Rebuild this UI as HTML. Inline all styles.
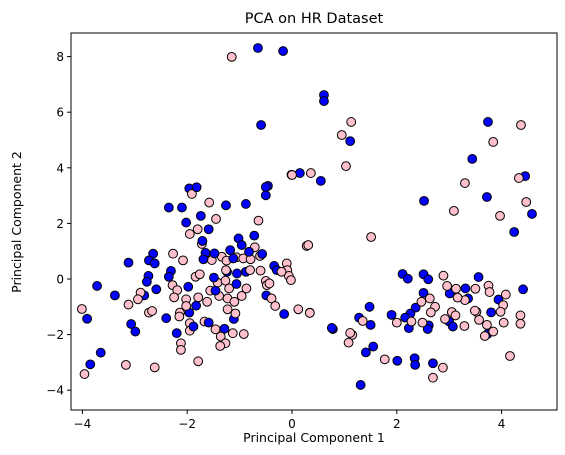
<!DOCTYPE html>
<html><head><meta charset="utf-8"><style>
html,body{margin:0;padding:0;background:#fff;}
svg{display:block;font-family:"DejaVu Sans","Liberation Sans",sans-serif;}
</style></head><body>
<svg id="chart" width="565" height="455"></svg>
<script>
const xTicks=[-4,-2,0,2,4];
const yTicks=[-4,-2,0,2,4,6,8];
const blueX=[-1.96,-1.82,-0.46,-0.50,-2.35,-2.10,-1.26,-0.88,-1.74,-2.02,-1.59,-1.71,-0.72,-1.02,-0.96,-2.65,-2.73,-2.62,-3.12,-1.65,-1.48,-1.18,-0.82,-1.12,-1.69,-0.57,-2.31,-2.35,-2.74,-2.77,-2.59,-3.72,-3.38,-2.82,-1.98,-1.49,-1.24,-1.05,-0.88,-1.06,-0.34,-0.29,-1.46,-1.83,-1.96,-0.15,-0.49,-2.40,-1.11,-3.07,-2.99,-2.20,-1.59,-1.29,-1.88,-3.91,-3.65,-3.85,
2.11,2.21,2.51,2.60,3.56,4.41,2.51,3.01,3.31,3.36,3.94,3.80,2.36,2.26,2.16,1.90,1.48,1.28,1.50,2.23,2.61,2.59,3.00,3.07,3.73,0.78,1.55,1.41,2.01,2.34,2.35,2.69,1.31,
-0.65,-0.17,0.61,0.61,-0.59,1.11,3.44,0.15,-0.50,0.55,3.72,3.74,4.45,4.58,4.24,2.52,0.76];
const blueY=[3.26,3.30,3.35,3.01,2.57,2.57,2.65,2.70,2.27,2.03,1.79,1.37,1.56,1.46,1.22,0.91,0.67,0.56,0.59,0.94,0.92,1.04,0.98,0.74,0.71,0.90,0.29,0.08,0.11,-0.10,-0.37,-0.25,-0.59,-0.59,-0.28,0.05,0.26,0.20,0.26,-0.18,0.47,0.32,-0.42,-0.96,-1.21,-1.26,-0.59,-1.41,-1.44,-1.62,-1.89,-1.95,-1.57,-1.79,-1.71,-1.43,-2.65,-3.07,
0.18,0.01,0.17,-0.01,0.07,-0.37,-0.50,-0.52,-0.34,-0.70,-0.74,-1.20,-1.03,-1.24,-1.39,-1.29,-1.00,-1.39,-1.65,-1.77,-1.67,-1.80,-1.53,-1.71,-1.98,-1.80,-2.43,-2.64,-2.94,-2.85,-3.09,-3.03,-3.81,
8.31,8.20,6.62,6.40,5.54,4.96,4.32,3.81,3.31,3.53,2.95,5.65,3.70,2.34,1.69,2.81,-1.76];
const pinkX=[-1.91,-1.58,-1.45,-0.64,-1.80,-1.95,-1.72,-2.27,-2.08,-1.34,-1.53,-1.25,-1.06,-0.93,-0.79,-0.61,-0.71,-0.10,-0.09,-0.06,-0.02,-0.60,-0.50,-0.48,-1.84,-1.76,-2.28,-2.19,-2.25,-2.02,-1.79,-1.62,-1.56,-1.42,-1.27,-1.20,-1.39,-1.23,-1.10,-0.96,-0.87,-2.89,-2.94,-3.12,-2.73,-2.67,-4.01,-2.14,-2.15,-1.95,-1.95,-1.67,-1.46,-1.36,-1.27,-1.37,-1.13,-0.92,-1.08,-1.23,-2.12,-2.12,-1.79,-3.17,-2.62,-3.96,-0.39,-0.32,0.12,0.34,0.28,-0.01,-0.43,-0.20,-0.80,-1.26,-2.02,
2.89,2.96,3.13,3.50,3.75,3.77,4.08,4.03,2.63,2.47,2.73,2.65,3.05,3.12,2.92,3.29,3.52,3.57,3.72,3.84,3.68,3.98,4.04,4.36,4.36,4.16,2.00,2.28,2.49,1.15,1.08,1.77,2.88,2.69,3.30,3.49,3.16,
-1.15,1.13,0.95,1.03,0.36,0.00,0.31,1.51,3.84,3.30,3.09,3.97,4.33,4.37,4.47,1.35,1.11,0.34];
const pinkY=[3.06,2.75,2.16,2.10,1.79,1.62,1.26,0.91,0.67,0.80,0.68,0.66,0.78,0.74,0.71,0.83,1.14,0.56,0.32,0.11,-0.04,0.30,-0.07,-0.22,0.08,0.17,-0.22,-0.40,-0.66,-0.73,-0.66,-0.82,-0.42,-0.13,-0.06,-0.34,-0.61,-0.70,-0.82,-0.61,-0.34,-0.49,-0.73,-0.92,-1.21,-1.15,-1.08,-1.21,-1.35,-1.59,-1.86,-1.53,-1.81,-2.07,-2.31,-2.41,-1.95,-1.98,-1.24,-1.09,-2.31,-2.55,-2.96,-3.09,-3.18,-3.42,-0.70,-0.97,-1.09,-1.21,1.19,3.75,-0.16,0.26,0.32,0.32,-0.97,
0.12,-0.25,-0.35,-0.35,-0.24,-0.47,-0.56,-0.94,-0.70,-0.82,-1.00,-1.20,-1.19,-1.31,-1.44,-1.69,-1.18,-1.47,-1.65,-1.89,-2.05,-1.18,-1.57,-1.31,-1.61,-2.77,-1.57,-1.53,-1.57,-2.01,-2.29,-2.89,-3.19,-3.55,-0.76,-1.14,-0.67,
7.99,5.65,5.18,4.06,3.81,3.74,1.22,1.51,4.93,3.45,2.45,2.27,3.63,5.54,2.77,-1.51,-1.94,-1.22];

const NS='http://www.w3.org/2000/svg';
const svg=document.getElementById('chart');
const L=71,R=557,T=33,B=410;
const sx=v=>292+v*52.4;
const sy=v=>279-v*27.8;
function mk(tag,attrs){const e=document.createElementNS(NS,tag);for(const k in attrs)e.setAttribute(k,attrs[k]);svg.appendChild(e);return e;}

const pts=[];
for(let i=0;i<pinkX.length;i++)pts.push([pinkX[i],pinkY[i],'#ffc0cb',i*2+1]);
for(let i=0;i<blueX.length;i++)pts.push([blueX[i],blueY[i],'#0000ff',i*2]);
pts.sort((a,b)=>a[3]-b[3]);
pts.forEach(p=>{
  const c=mk('circle',{cx:sx(p[0]),cy:sy(p[1]),r:4.4,fill:p[2],stroke:'#000','stroke-width':1});
  
  
});

const frame=mk('rect',{x:L,y:T,width:R-L,height:B-T,fill:'none',stroke:'#000','stroke-width':1});



xTicks.forEach(t=>{
  const x=sx(t);
  const l=mk('line',{x1:x,y1:B,x2:x,y2:B+4,stroke:'#000'});
  
  
  const tx=mk('text',{x:x,y:B+18,'text-anchor':'middle','font-size':12});
  tx.textContent=t<0?'\u2212'+(-t):String(t);
  
  
});
yTicks.forEach(t=>{
  const y=sy(t);
  const l=mk('line',{x1:L-4,y1:y,x2:L,y2:y,stroke:'#000'});
  
  
  const tx=mk('text',{x:L-7,y:y+4.5,'text-anchor':'end','font-size':12});
  tx.textContent=t<0?'\u2212'+(-t):String(t);
  
  
});
const title=mk('text',{x:314,y:23,'text-anchor':'middle','font-size':14.5});
title.textContent='PCA on HR Dataset';


const xl=mk('text',{x:314,y:442,'text-anchor':'middle','font-size':12.5});
xl.textContent='Principal Component 1';


const yl=mk('text',{x:21,y:222,'text-anchor':'middle','font-size':12.5,transform:'rotate(-90 21 222)'});
yl.textContent='Principal Component 2';


</script>
</body></html>
